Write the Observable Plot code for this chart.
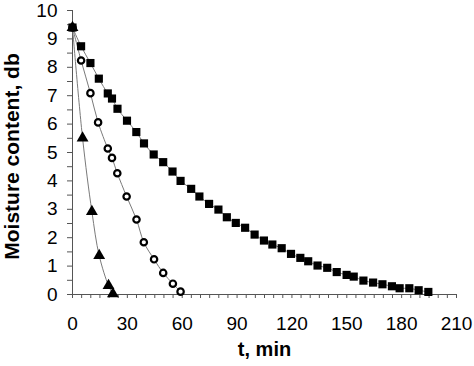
<!DOCTYPE html>
<html>
<head>
<meta charset="utf-8">
<script src="https://cdn.jsdelivr.net/npm/d3@7"></script>
<script src="https://cdn.jsdelivr.net/npm/@observablehq/plot@0.6"></script>
<style>
  html, body { margin: 0; padding: 0; background: #fff; }
  svg { display: block; }
</style>
</head>
<body>
<div id="chart"></div>
<script>
// Series 1 (squares)
const squareT = [0, 4.7, 9.8, 14.4, 19.3, 21.6, 24.6, 29.8, 34.9, 39.1, 44.4, 49.6, 54.7, 59.1, 64.9, 69.4, 74.7, 79.8, 84.4, 89.3, 94.4, 99.6, 104.7, 109.3, 114.4, 119.5, 124.6, 128.9, 134.0, 139.3, 144.5, 149.9, 153.8, 159.1, 164.4, 169.5, 174.7, 178.9, 184.2, 189.3, 194.6];
const squareM = [9.4, 8.74, 8.15, 7.6, 7.08, 6.9, 6.54, 6.12, 5.72, 5.32, 4.93, 4.66, 4.33, 4.0, 3.72, 3.45, 3.19, 2.99, 2.72, 2.52, 2.35, 2.11, 1.9, 1.76, 1.63, 1.43, 1.29, 1.17, 1.02, 0.94, 0.79, 0.69, 0.63, 0.49, 0.42, 0.36, 0.29, 0.22, 0.22, 0.15, 0.09];
// Series 2 (open circles)
const circleT = [0, 4.7, 9.8, 14.0, 19.3, 21.6, 24.5, 29.6, 35.0, 39.0, 44.6, 49.6, 54.9, 59.1];
const circleM = [9.4, 8.24, 7.09, 6.06, 5.14, 4.81, 4.27, 3.45, 2.64, 1.84, 1.24, 0.76, 0.38, 0.1];
// Series 3 (triangles)
const triT = [0, 5.5, 10.6, 14.6, 19.7, 22.1];
const triM = [9.4, 5.51, 2.92, 1.37, 0.31, 0.02];
// Axis ticks
const xMajor = [0, 30, 60, 90, 120, 150, 180, 210];
const xMinor = d3.range(0, 211, 5);
const yMajor = [0, 1, 2, 3, 4, 5, 6, 7, 8, 9, 10];
const yMinor = d3.range(0, 10.01, 0.5);
const xTitle = "t, min";
const yTitle = "Moisture content, db";

const zip = (T, M) => T.map((t, i) => ({t, m: M[i]}));
const squares = zip(squareT, squareM);
const circles = zip(circleT, circleM);
const tris = zip(triT, triM);

const lineStyle = {x: "t", y: "m", stroke: "#7a7a7a", strokeWidth: 1, curve: "catmull-rom"};

const chart = Plot.plot({
  width: 474,
  height: 366,
  marginLeft: 72,
  marginRight: 18,
  marginTop: 10,
  marginBottom: 72,
  x: {domain: [0, 210], axis: null},
  y: {domain: [0, 10], axis: null},
  style: {fontFamily: "'Liberation Sans', Arial, sans-serif", background: "#fff", color: "#000"},
  marks: [
    // axis lines
    Plot.ruleY([0], {stroke: "#555", strokeWidth: 1}),
    Plot.ruleX([0], {stroke: "#555", strokeWidth: 1}),
    // ticks
    Plot.ruleX(xMinor, {x: d => d, y1: 0, y2: 0, insetBottom: -4, stroke: "#555", strokeWidth: 1}),
    Plot.ruleY(yMinor, {y: d => d, x1: 0, x2: 0, insetLeft: -5, stroke: "#555", strokeWidth: 1}),
    // tick labels
    Plot.text(xMajor, {x: d => d, y: 0, dy: 29, text: d => String(d), fontSize: 19, fill: "#000"}),
    Plot.text(yMajor, {x: 0, y: d => d, dx: -15, text: d => String(d), textAnchor: "end", fontSize: 19, fill: "#000"}),
    // titles
    Plot.text([xTitle], {frameAnchor: "bottom", dy: 61, text: d => d, textAnchor: "middle", fontSize: 20, fontWeight: "bold", fill: "#000"}),
    Plot.text([yTitle], {frameAnchor: "left", dx: -60, dy: 4, rotate: -90, text: d => d, textAnchor: "middle", fontSize: 21, fontWeight: "bold", fill: "#000"}),
    // lines
    Plot.line(squares, lineStyle),
    Plot.line(circles, lineStyle),
    Plot.line(tris, lineStyle),
    // markers
    Plot.dot(squares, {x: "t", y: "m", symbol: "square", r: 4.6, fill: "#000"}),
    Plot.dot(circles, {x: "t", y: "m", symbol: "circle", r: 3.2, fill: "#fff", stroke: "#000", strokeWidth: 2.2}),
    Plot.dot(tris, {x: "t", y: "m", symbol: "triangle", r: 4.4, fill: "#000"})
  ]
});
document.getElementById("chart").appendChild(chart);
</script>
</body>
</html>
